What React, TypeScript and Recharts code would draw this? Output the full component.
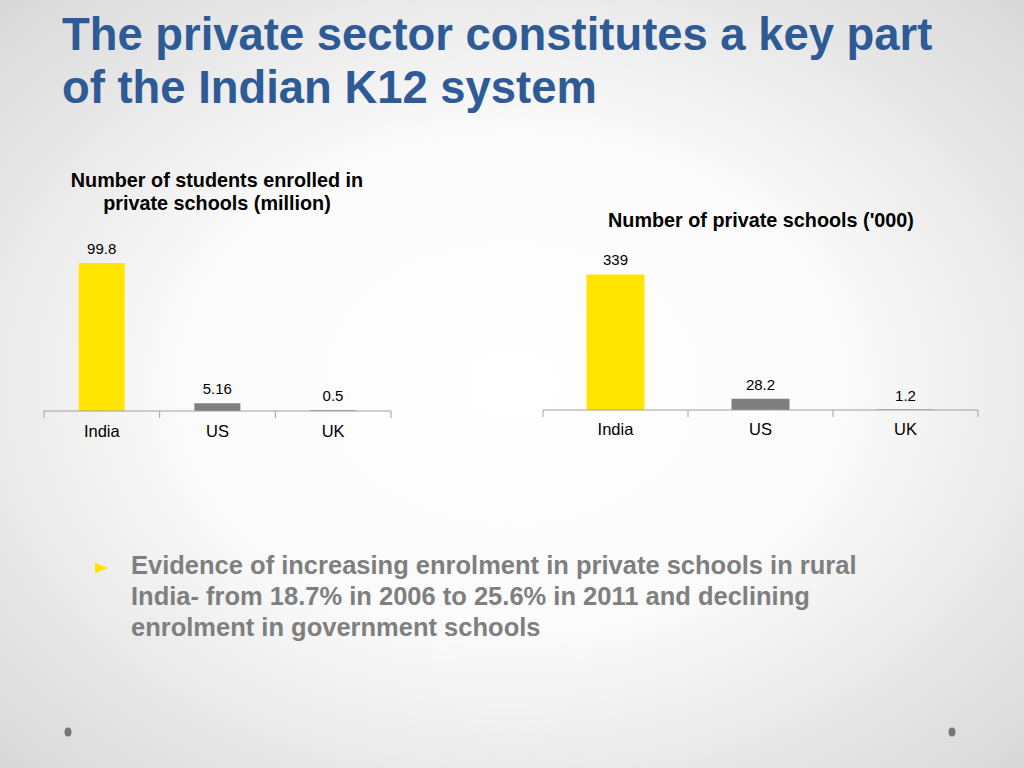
import React from 'react';
import { BarChart, Bar, XAxis, YAxis, Cell, LabelList } from 'recharts';

const countries = ['India', 'US', 'UK'];
const studentsMillion = [99.8, 5.16, 0.5];
const schoolsThousand = [339, 28.2, 1.2];
const barColors = ['#FFE500', '#7F7F7F', '#7F7F7F'];

const titleLines = ['The private sector constitutes a key part', 'of the Indian K12 system'];
const leftTitle = ['Number of students enrolled in', 'private schools (million)'];
const rightTitle = ["Number of private schools ('000)"];
const bulletText = [
  'Evidence of increasing enrolment in private schools in rural',
  'India- from 18.7% in 2006 to 25.6% in 2011 and declining',
  'enrolment in government schools',
];

const FONT = '"Liberation Sans", Arial, Helvetica, sans-serif';

const studentsData = countries.map((c, i) => ({ name: c, value: studentsMillion[i] }));
const schoolsData = countries.map((c, i) => ({ name: c, value: schoolsThousand[i] }));

const makeTick = (half: number, count: number, labelDy: number) => (props: any) => {
  const { x, y, payload, index } = props;
  return (
    <g>
      <line x1={x - half} x2={x - half} y1={y} y2={y + 7} stroke="#A0A0A0" strokeWidth={1} />
      {index === count - 1 && (
        <line x1={x + half} x2={x + half} y1={y} y2={y + 7} stroke="#A0A0A0" strokeWidth={1} />
      )}
      <text x={x} y={y + labelDy} textAnchor="middle" fontSize={16.5} fill="#000" fontFamily={FONT}>
        {payload.value}
      </text>
    </g>
  );
};

const fmt = (v: any) => String(v);

export default function App() {
  const leftW = 387;
  const leftPlotW = leftW - 40;
  const rightW = 475;
  const rightPlotW = rightW - 40;
  return (
    <div
      style={{
        position: 'absolute',
        left: 0,
        top: 0,
        width: 1024,
        height: 768,
        overflow: 'hidden',
        background: 'radial-gradient(ellipse at 50% 50%, #ffffff 0%, #fbfbfb 45%, #d8d8d8 100%)',
        fontFamily: FONT,
      }}
    >
      <div
        style={{
          position: 'absolute',
          left: 62,
          top: 8,
          fontSize: 45.4,
          lineHeight: '53px',
          fontWeight: 'bold',
          color: '#2E5A96',
          whiteSpace: 'nowrap',
        }}
      >
        {titleLines.map((t) => (
          <div key={t}>{t}</div>
        ))}
      </div>

      <div
        style={{
          position: 'absolute',
          left: 17,
          width: 400,
          top: 169,
          textAlign: 'center',
          fontSize: 19.8,
          lineHeight: '23px',
          fontWeight: 'bold',
          color: '#000',
          whiteSpace: 'nowrap',
        }}
      >
        {leftTitle.map((t) => (
          <div key={t}>{t}</div>
        ))}
      </div>

      <div
        style={{
          position: 'absolute',
          left: 561,
          width: 400,
          top: 209,
          textAlign: 'center',
          fontSize: 19.8,
          lineHeight: '23px',
          fontWeight: 'bold',
          color: '#000',
          whiteSpace: 'nowrap',
        }}
      >
        {rightTitle.map((t) => (
          <div key={t}>{t}</div>
        ))}
      </div>

      <div style={{ position: 'absolute', left: 24, top: 220 }}>
        <BarChart
          width={leftW}
          height={221}
          data={studentsData}
          margin={{ top: 28, right: 20, left: 20, bottom: 0 }}
          barCategoryGap="30%"
        >
          <XAxis
            dataKey="name"
            height={30}
            tickLine={false}
            tickSize={0}
            tickMargin={0}
            axisLine={{ stroke: '#A0A0A0' }}
            tick={makeTick(leftPlotW / 6, countries.length, 26)}
            interval={0}
          />
          <YAxis hide domain={[0, 110]} />
          <Bar dataKey="value" isAnimationActive={false}>
            {studentsData.map((d, i) => (
              <Cell key={d.name} fill={barColors[i]} />
            ))}
            <LabelList
              dataKey="value"
              position="top"
              offset={9}
              formatter={fmt}
              style={{ fontSize: 15, fill: '#000', fontFamily: FONT }}
            />
          </Bar>
        </BarChart>
      </div>

      <div style={{ position: 'absolute', left: 523, top: 220 }}>
        <BarChart
          width={rightW}
          height={220}
          data={schoolsData}
          margin={{ top: 30, right: 20, left: 20, bottom: 0 }}
          barCategoryGap="30%"
        >
          <XAxis
            dataKey="name"
            height={30}
            tickLine={false}
            tickSize={0}
            tickMargin={0}
            axisLine={{ stroke: '#A0A0A0' }}
            tick={makeTick(rightPlotW / 6, countries.length, 25)}
            interval={0}
          />
          <YAxis hide domain={[0, 400]} />
          <Bar dataKey="value" isAnimationActive={false}>
            {schoolsData.map((d, i) => (
              <Cell key={d.name} fill={barColors[i]} />
            ))}
            <LabelList
              dataKey="value"
              position="top"
              offset={9}
              formatter={fmt}
              style={{ fontSize: 15, fill: '#000', fontFamily: FONT }}
            />
          </Bar>
        </BarChart>
      </div>

      <svg style={{ position: 'absolute', left: 0, top: 0 }} width={1024} height={768}>
        <polygon points="95,562.5 108,568 95,573.5" fill="#FFE500" />
        <ellipse cx={68} cy={732} rx={3.5} ry={4.5} fill="#777777" />
        <ellipse cx={952} cy={732} rx={3.5} ry={4.5} fill="#777777" />
      </svg>

      <div
        style={{
          position: 'absolute',
          left: 131,
          top: 550,
          fontSize: 25.5,
          lineHeight: '31px',
          fontWeight: 'bold',
          color: '#7F7F7F',
          whiteSpace: 'nowrap',
        }}
      >
        {bulletText.map((t) => (
          <div key={t}>{t}</div>
        ))}
      </div>
    </div>
  );
}
